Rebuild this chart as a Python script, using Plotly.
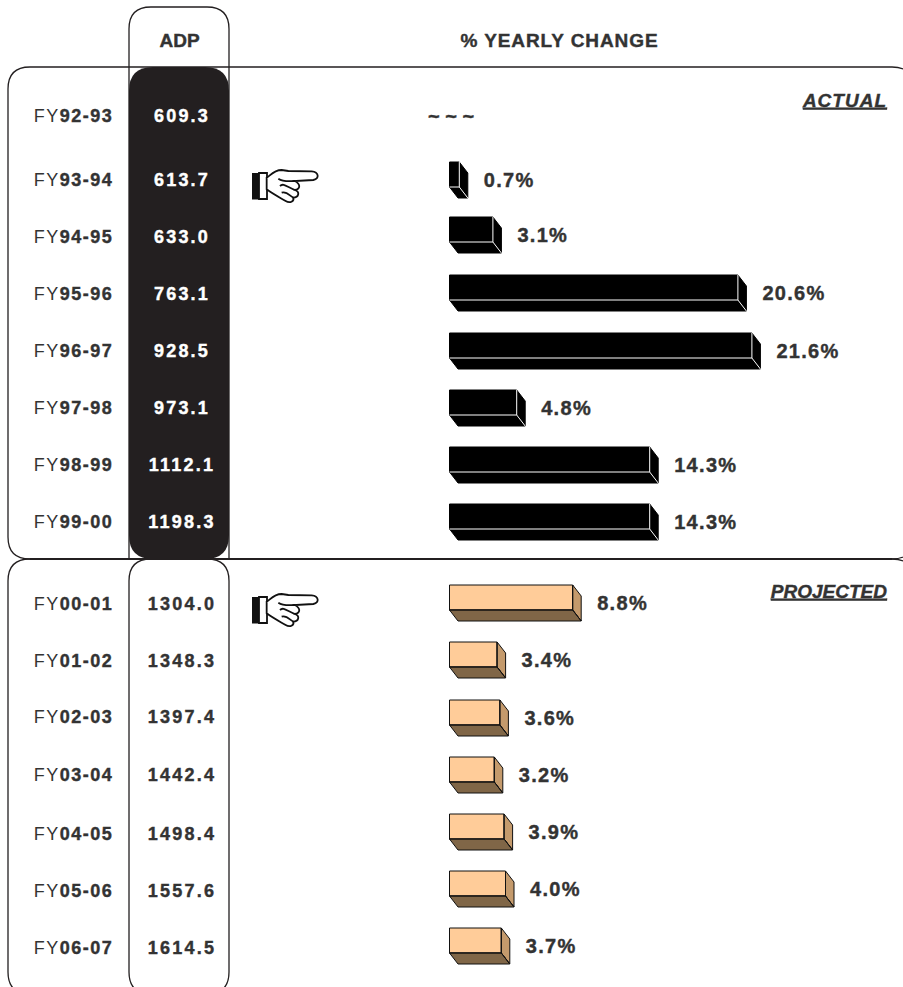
import plotly.graph_objects as go

FY_ACTUAL = ["92-93", "93-94", "94-95", "95-96", "96-97", "97-98", "98-99", "99-00"]
ADP_ACTUAL = [609.3, 613.7, 633.0, 763.1, 928.5, 973.1, 1112.1, 1198.3]
CHG_ACTUAL = [0.7, 3.1, 20.6, 21.6, 4.8, 14.3, 14.3]
FY_PROJ = ["00-01", "01-02", "02-03", "03-04", "04-05", "05-06", "06-07"]
ADP_PROJ = [1304.0, 1348.3, 1397.4, 1442.4, 1498.4, 1557.6, 1614.5]
CHG_PROJ = [8.8, 3.4, 3.6, 3.2, 3.9, 4.0, 3.7]

# layout constants (pixel rows on the page)
ROW_ACTUAL = [115, 179, 236, 293, 350, 407, 464, 521]
ROW_PROJ = [603, 660, 716, 774, 833, 890, 947]
TOP_ACTUAL = [162, 217, 275, 333, 390, 447, 504]
TOP_PROJ = [585, 642, 700, 757, 814, 871, 928]
W, H = 903, 987
X0, PX = 449.5, 14.0
FH, DX, DY = 25.0, 8.5 / PX, 11.0
INK = "#231f20"
TXT = "#333333"
FONT = "Liberation Sans"


def fx(x):
    return round(x / W, 5)


def rrect(x0, y0, x1, y1, r):
    X0_, X1_, A, B = fx(x0), fx(x1), fx(x0 + r), fx(x1 - r)
    return (f"M{A},{y0} L{B},{y0} Q{X1_},{y0} {X1_},{y0+r} L{X1_},{y1-r} Q{X1_},{y1} {B},{y1} "
            f"L{A},{y1} Q{X0_},{y1} {X0_},{y1-r} L{X0_},{y0+r} Q{X0_},{y0} {A},{y0} Z")


def tab(x0, y0, x1, y1, r):
    """Rounded on top, open and square at the bottom."""
    X0_, X1_, A, B = fx(x0), fx(x1), fx(x0 + r), fx(x1 - r)
    return f"M{X0_},{y1} L{X0_},{y0+r} Q{X0_},{y0} {A},{y0} L{B},{y0} Q{X1_},{y0} {X1_},{y0+r} L{X1_},{y1}"


def poly(points):
    xs, ys = [], []
    for p in points:
        xs += [c[0] for c in p] + [None]
        ys += [c[1] for c in p] + [None]
    return xs, ys


fig = go.Figure()


def add_bars(vals, tops, front, side, bottom, line, inner):
    cy = [t + FH / 2 for t in tops]
    fig.add_trace(go.Bar(x=vals, y=cy, width=FH, orientation="h", base=0,
                         marker=dict(color=front, line=dict(color=line, width=1)),
                         hoverinfo="skip", showlegend=False))
    sides = [[(v, t), (v + DX, t + DY), (v + DX, t + FH + DY), (v, t + FH), (v, t)] for v, t in zip(vals, tops)]
    bots = [[(0, t + FH), (v, t + FH), (v + DX, t + FH + DY), (DX, t + FH + DY), (0, t + FH)] for v, t in zip(vals, tops)]
    for pts, col in ((sides, side), (bots, bottom)):
        xs, ys = poly(pts)
        fig.add_trace(go.Scatter(x=xs, y=ys, mode="lines", fill="toself", fillcolor=col,
                                 line=dict(color=line, width=1), hoverinfo="skip", showlegend=False))
    edges = [[(0, t + FH), (v, t + FH), (v, t)] for v, t in zip(vals, tops)] + \
            [[(v, t + FH), (v + DX, t + FH + DY)] for v, t in zip(vals, tops)]
    xs, ys = poly(edges)
    fig.add_trace(go.Scatter(x=xs, y=ys, mode="lines", line=dict(color=inner, width=1),
                             hoverinfo="skip", showlegend=False))


add_bars(CHG_ACTUAL, TOP_ACTUAL, "#000000", "#000000", "#000000", "#000000", "#ffffff")
add_bars(CHG_PROJ, TOP_PROJ, "#ffcc99", "#c49a6c", "#806647", "#111111", "#111111")


def text(xs, ys, labels, color=TXT, size=18, pos="middle center", family=FONT):
    fig.add_trace(go.Scatter(x=xs, y=[y + 2 for y in ys], text=labels, mode="text", textposition=pos,
                             textfont=dict(color=color, size=size, family=family),
                             hoverinfo="skip", showlegend=False))


def xp(px):
    return (px - X0) / PX


# FY labels
fy = FY_ACTUAL + FY_PROJ
rows = ROW_ACTUAL + ROW_PROJ
text([xp(73.5)] * len(fy), rows, [f"FY<b>{s}</b>" for s in fy], size=18)
# ADP column
text([xp(182)] * len(ADP_ACTUAL), ROW_ACTUAL, [f"<b>{v:.1f}</b>" for v in ADP_ACTUAL], color="#ffffff", size=18)
text([xp(182)] * len(ADP_PROJ), ROW_PROJ, [f"<b>{v:.1f}</b>" for v in ADP_PROJ], size=18)
# % labels
vals = CHG_ACTUAL + CHG_PROJ
tops = TOP_ACTUAL + TOP_PROJ
text([v + 24.5 / PX for v in vals], [t + 17.5 for t in tops], [f"<b>{v:.1f}%</b>" for v in vals],
     pos="middle right", size=20)
# headers
text([xp(179.5)], [40], ["<b>ADP</b>"], size=19)
text([xp(559.5)], [40], ["<b>% YEARLY CHANGE</b>"], size=19)
text([xp(451)], [116], ["<b>~ ~ ~</b>"], size=20)
text([xp(887)], [100], ["<b><i><u>ACTUAL</u></i></b>"], pos="middle left", size=19)
text([xp(887)], [591], ["<b><i><u>PROJECTED</u></i></b>"], pos="middle left", size=19)

OUT = dict(color=INK, width=1.3)
shapes = [
    dict(type="path", path=tab(129, 7, 229, 559, 22), line=OUT),
    dict(type="path", path=rrect(8, 67, 914, 559, 22), line=OUT),
    dict(type="path", path=rrect(8, 559, 914, 994, 22), line=OUT),
    dict(type="path", path=rrect(129, 67, 229, 559, 24), fillcolor=INK, line=dict(color=INK, width=0)),
    dict(type="path", path=rrect(129, 559, 229, 994, 22), fillcolor="#ffffff", line=OUT),
    dict(type="path", path=f"M{fx(8+22)},559 L{fx(892)},559", line=dict(color=INK, width=2)),
]


def hand(oy):
    """Pointing-hand pictogram; coordinates are in 1/3 px around (245, oy)."""
    def p(x, y):
        return f"{fx(245 + x / 3)},{round(oy + y / 3, 2)}"

    def c(a, b, d):
        return f"C{p(*a)} {p(*b)} {p(*d)} "
    hand_out = ("M" + p(65, 35) + " " + c((75, 30), (85, 12), (110, 12)) + "L" + p(130, 15) + " L" + p(200, 16) + " "
                + c((222, 18), (224, 38), (205, 42)) + "L" + p(150, 45) + " "
                + c((167, 55), (167, 68), (150, 72)) + c((166, 78), (161, 95), (145, 95))
                + c((148, 106), (135, 113), (122, 105)) + c((105, 95), (85, 85), (65, 70)) + "Z")
    inner = ("M" + p(100, 38) + " " + c((115, 48), (130, 45), (150, 45))
             + "M" + p(105, 60) + " " + c((115, 50), (125, 62), (150, 72))
             + "M" + p(110, 80) + " " + c((125, 75), (135, 90), (145, 95)))
    cuff = f"M{fx(252)},{oy+7} L{fx(259)},{oy+7} L{fx(259)},{oy+33.5} L{fx(252)},{oy+33.5} Z"
    band = f"M{fx(259)},{oy+7} L{fx(267)},{oy+7} L{fx(267)},{oy+33} L{fx(259)},{oy+33} Z"
    thin = dict(color="#111111", width=1.8)
    return [
        dict(type="path", path=cuff, fillcolor="#111111", line=dict(width=0)),
        dict(type="path", path=band, line=thin),
        dict(type="path", path=hand_out, fillcolor="#ffffff", line=thin),
        dict(type="path", path=inner, line=thin),
    ]


shapes += hand(166) + hand(590)
for s in shapes:
    s.update(xref="paper", yref="y", layer="below")

fig.update_layout(
    width=W, height=H, margin=dict(l=0, r=0, t=0, b=0), paper_bgcolor="#ffffff", plot_bgcolor="rgba(0,0,0,0)",
    showlegend=False, barmode="overlay", shapes=shapes,
    xaxis=dict(range=[-X0 / PX, (W - X0) / PX], visible=False, fixedrange=True),
    yaxis=dict(range=[H, 0], visible=False, fixedrange=True),
)

post = """
document.body.style.margin='0';
document.querySelectorAll('.textpoint text').forEach(function(t){
  var s=t.textContent;
  if(/^\\d+\\.\\d$/.test(s)) t.style.letterSpacing='2.2px';
  else if(/^FY/.test(s)) t.style.letterSpacing='1.5px';
  else if(/%$/.test(s) && s.length<7) t.style.letterSpacing='1.3px';
  else if(/YEARLY/.test(s)) t.style.letterSpacing='0.9px';
  else if(s==='ACTUAL') t.style.letterSpacing='1px';
  var col=getComputedStyle(t).fill;
  t.querySelectorAll('tspan').forEach(function(b){
    if(getComputedStyle(b).fontWeight>=600){b.style.stroke=col;b.style.strokeWidth='0.4px';}
  });
});
"""
fig.write_html("out.html", post_script=post, config=dict(displayModeBar=False))
